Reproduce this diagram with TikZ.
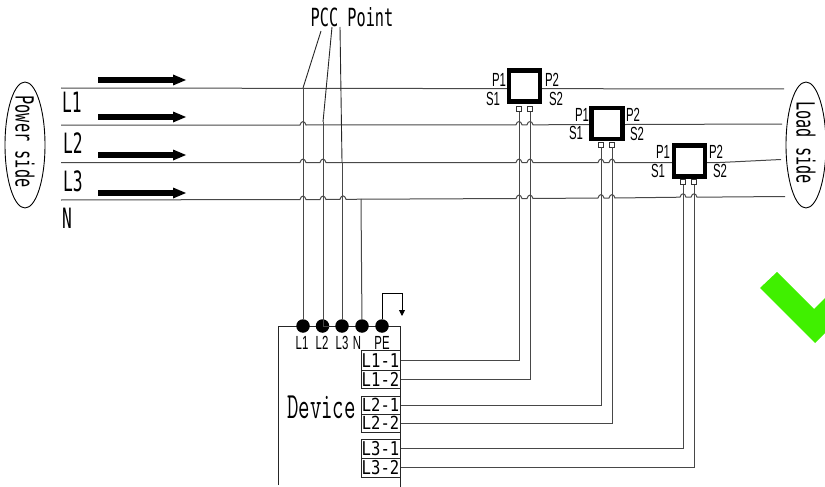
\documentclass[tikz,border=0pt]{standalone}
\usepackage{fontspec}
\setmainfont{Liberation Sans}
\newfontfamily\monof{DejaVu Sans Mono}
\usetikzlibrary{arrows.meta,shapes.geometric}
\definecolor{wire}{HTML}{484848}
\definecolor{okgreen}{HTML}{40F000}
\newcommand{\M}[3]{\scalebox{#2}[1]{\fontsize{#1}{#1}\monof #3}}
\newcommand{\Sn}[3]{\scalebox{#2}[1]{\fontsize{#1}{#1}\selectfont #3}}
\tikzset{
  bus/.style={draw=wire,line width=1pt},
  thin wire/.style={draw=black!85,line width=.9pt},
  flow/.style={line width=6.5pt,-{Triangle[length=13pt,width=11pt,line width=0pt]}},
  ctbox/.style={draw=black,fill=white,line width=4.6pt,minimum size=31pt,inner sep=0pt},
  ctpin/.style={draw=black!80,fill=white,line width=.9pt,minimum size=5pt,inner sep=0pt},
  dot/.style={circle,fill=black,minimum size=13.5pt,inner sep=0pt},
  term/.style={draw=black!85,line width=1pt,minimum width=39pt,inner sep=0pt},
  side/.style={draw=black,ellipse,line width=.9pt,fill=white},
  lab/.style={inner sep=0pt,text=black},
}
\begin{document}
\begin{tikzpicture}[x=1pt,y=-1pt]
\useasboundingbox (0,0) rectangle (825,487);
% phase buses
\draw[bus] (61,88) -- (784,89);
\draw[bus] (61,125) -- (300,125) .. controls (301,120.5) and (305,120.5) .. (306,125) -- (516,124.8) .. controls (517,120.5) and (521,120.5) .. (522,124.8) -- (527,124.8) .. controls (528,120.5) and (532,120.5) .. (533,124.8) -- (782,124);
\draw[bus] (61,162.5) -- (300,162.5) .. controls (301,158) and (305,158) .. (306,162.5) -- (320,162.5) .. controls (321,158) and (325,158) .. (326,162.5) -- (516,162.5) .. controls (517,158) and (521,158) .. (522,162.5) -- (527,162.5) .. controls (528,158) and (532,158) .. (533,162.5) -- (598,162.5) .. controls (599,158) and (603,158) .. (604,162.5) -- (609,162.5) .. controls (610,158) and (614,158) .. (615,162.5) -- (720,162.5) -- (781,159.5);
\draw[bus] (61,200) -- (300,199.5) .. controls (301,195) and (305,195) .. (306,199.5) -- (320,199.5) .. controls (321,195) and (325,195) .. (326,199.5) -- (340,199.3) .. controls (341,194.8) and (345,194.8) .. (346,199.3) -- (516,198.5) .. controls (517,194) and (521,194) .. (522,198.5) -- (527,198.5) .. controls (528,194) and (532,194) .. (533,198.5) -- (598,198) .. controls (599,193.5) and (603,193.5) .. (604,198) -- (609,198) .. controls (610,193.5) and (614,193.5) .. (615,198) -- (680,197.2) .. controls (681,192.7) and (685,192.7) .. (686,197.2) -- (691,197.2) .. controls (692,192.7) and (696,192.7) .. (697,197.2) -- (785,196.5);
% flow arrows
\foreach \yy [count=\i] in {80,117,155,193}{
  \coordinate (fa\i) at (98,\yy);
  \coordinate (fb\i) at (186,\yy);
  \draw[flow] (fa\i) -- (fb\i);
}
% side ellipses
\node[side,minimum width=40pt,minimum height=126pt] (power) at (25,145) {};
\node[lab,rotate=-90] at (25,141.5) {\M{25}{.61}{Power side}};
\node[side,minimum width=40pt,minimum height=126pt] (load) at (806,145) {};
\node[lab,rotate=-90] at (806,142.5) {\M{25}{.61}{Load side}};
% bus labels
\node[lab] at (72,102) {\M{28}{.58}{L1}};
\node[lab] at (73,143) {\M{28}{.58}{L2}};
\node[lab] at (73,181.5) {\M{28}{.58}{L3}};
\node[lab] at (67,218) {\M{28}{.58}{N}};
% PCC
\node[lab] (pcc) at (352,17.5) {\M{25}{.61}{PCC Point}};
\coordinate (pa) at (321,31);
\coordinate (pb) at (332,27);
\coordinate (pc) at (340,27);
\coordinate (j1) at (303,88);
\coordinate (j2) at (323,122);
\coordinate (j3) at (342,162);
\coordinate (j4) at (361,199);
\draw[thin wire] (pa) -- (j1);
\draw[thin wire] (pb) -- (j2);
\draw[thin wire] (pc) -- (j3);
% device
\coordinate (dtl) at (278,326);
\coordinate (dtr) at (400,326);
\coordinate (dbl) at (278,485);
\coordinate (dbr) at (400,487);
\draw[draw=black!85,line width=1pt] (dbl) -- (dtl) -- (dtr) -- (dbr);
\node[dot] (d1) at (303,326) {};
\node[dot] (d2) at (322.5,326) {};
\node[dot] (d3) at (342,326) {};
\node[dot] (d4) at (362,326) {};
\node[dot] (d5) at (382,326) {};
\draw[bus] (j1) -- (d1);
\draw[bus] (j2) -- (323,326) -- (d2);
\draw[bus] (j3) -- (d3);
\draw[bus] (j4) -- (d4);
\coordinate (pe1) at (402,293);
\coordinate (pe2) at (402,316);
\draw[draw=black,line width=.9pt,-{Triangle[length=6pt,width=6pt]}] (d5) |- (pe1) -- (pe2);
\node[lab] at (302,342.5) {\Sn{19}{.6}{L1}};
\node[lab] at (322,342.5) {\Sn{19}{.6}{L2}};
\node[lab] at (342,342.5) {\Sn{19}{.6}{L3}};
\node[lab] at (357,342.5) {\Sn{19}{.6}{N}};
\node[lab] at (382,342.5) {\Sn{19}{.6}{PE}};
\node[lab] (dev) at (321.5,407) {\scalebox{.6}[1]{\fontsize{37}{37}\ttfamily Device}};
% terminals
\node[term,minimum height=19.5pt] (t11) at (380.5,360.7) {\M{19}{.82}{L1-1}};
\node[term,minimum height=18.5pt] (t12) at (380.5,379.7) {\M{19}{.82}{L1-2}};
\node[term,minimum height=18pt] (t21) at (380.5,405) {\M{18}{.86}{L2-1}};
\node[term,minimum height=18pt] (t22) at (380.5,423) {\M{18}{.86}{L2-2}};
\node[term,minimum height=19pt] (t31) at (380.5,448.5) {\M{19}{.82}{L3-1}};
\node[term,minimum height=19pt] (t32) at (380.5,467.5) {\M{19}{.82}{L3-2}};
% CTs
\node[ctbox] (ct1) at (524.5,86) {};
\node[ctbox] (ct2) at (607,123.5) {};
\node[ctbox] (ct3) at (689.5,161) {};
\node[ctpin] (s11) at (519,109) {};
\node[ctpin] (s12) at (530,109) {};
\node[ctpin] (s21) at (601,144.5) {};
\node[ctpin] (s22) at (612,144.5) {};
\node[ctpin] (s31) at (683,182) {};
\node[ctpin] (s32) at (694,182) {};
\draw[bus] (s11) |- (t11);
\draw[bus] (s12) |- (t12);
\draw[bus] (s21) |- (t21);
\draw[bus] (s22) |- (t22);
\draw[bus] (s31) |- (t31);
\draw[bus] (s32) |- (t32);
\foreach \px/\py/\sx/\sy/\qx/\qy/\tx/\ty in {499/80/493/99/552/80/556/99,582/115/576/133/633/115/637/134,663/152/658/171/716/152/720/171}{
  \node[lab] at (\px,\py) {\Sn{19}{.6}{P1}};
  \node[lab] at (\sx,\sy) {\Sn{19}{.6}{S1}};
  \node[lab] at (\qx,\qy) {\Sn{19}{.6}{P2}};
  \node[lab] at (\tx,\ty) {\Sn{19}{.6}{S2}};
}
% check mark
\fill[okgreen] (777,272) -- (760,288) -- (815,343) -- (825,333) -- (825,298) -- (814,309) -- cycle;
\end{tikzpicture}
\end{document}
